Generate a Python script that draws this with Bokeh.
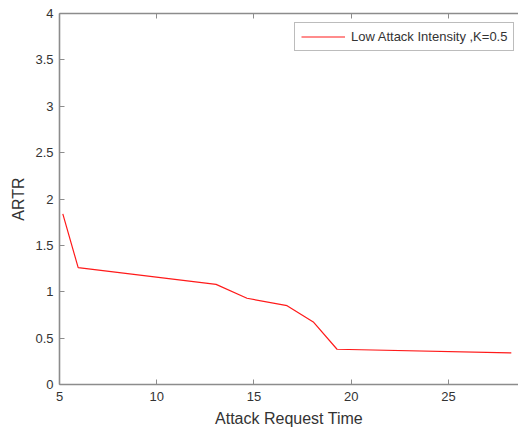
from bokeh.plotting import figure
from bokeh.models import Range1d, FixedTicker, LinearAxis, Legend, LegendItem
from bokeh.embed import file_html
from bokeh.resources import INLINE

# Data
attack_time = [5.17, 5.96, 13.05, 14.64, 16.7, 18.07, 19.27, 28.23]
artr = [1.84, 1.26, 1.08, 0.93, 0.85, 0.67, 0.38, 0.34]
series_name = "Low Attack Intensity ,K=0.5"

x_ticks = [5, 10, 15, 20, 25]
x_tick_labels = ["5", "10", "15", "20", "25"]
y_ticks = [0, 0.5, 1, 1.5, 2, 2.5, 3, 3.5, 4]
y_tick_labels = ["0", "0.5", "1", "1.5", "2", "2.5", "3", "3.5", "4"]

FONT = "Liberation Sans"
AXIS_COLOR = "#8c8c8c"
TEXT_COLOR = "#333333"

p = figure(width=518, height=429, output_backend="svg", toolbar_location=None,
           x_range=Range1d(5, 28.6), y_range=Range1d(0, 4))
p.min_border_left = 59
p.min_border_right = 0
p.min_border_top = 13
p.min_border_bottom = 45
p.outline_line_color = None
p.grid.visible = False
p.background_fill_color = "white"
p.border_fill_color = "white"

line = p.line(attack_time, artr, line_color="#ff1a1a", line_width=1.2)

def style_axis(ax, ticks, labels, show_labels=True):
    ax.ticker = FixedTicker(ticks=ticks)
    ax.major_label_overrides = {t: l for t, l in zip(ticks, labels)}
    ax.major_tick_in = 5
    ax.major_tick_out = 0
    ax.minor_tick_in = 0
    ax.minor_tick_out = 0
    ax.axis_line_color = AXIS_COLOR
    ax.axis_line_width = 1.6
    ax.major_tick_line_color = AXIS_COLOR
    ax.major_tick_line_width = 1
    ax.major_label_text_font = FONT
    ax.major_label_text_font_size = "13px"
    ax.major_label_text_color = TEXT_COLOR
    ax.axis_label_text_font = FONT
    ax.axis_label_text_font_size = "16px"
    ax.axis_label_text_font_style = "normal"
    ax.axis_label_text_color = TEXT_COLOR
    if not show_labels:
        ax.major_label_text_font_size = "0px"
        ax.major_label_text_alpha = 0

style_axis(p.xaxis[0], x_ticks, x_tick_labels)
style_axis(p.yaxis[0], y_ticks, y_tick_labels)
p.xaxis[0].axis_label = "Attack Request Time"
p.yaxis[0].axis_label = "ARTR"
p.xaxis[0].major_label_standoff = 7
p.xaxis[0].axis_label_standoff = 6
p.yaxis[0].major_label_standoff = 6
p.yaxis[0].axis_label_standoff = 5

top_axis = LinearAxis()
style_axis(top_axis, x_ticks, x_tick_labels, show_labels=False)
top_axis.major_label_standoff = 0
p.add_layout(top_axis, "above")

legend = Legend(items=[LegendItem(label=series_name, renderers=[line])],
                location=(235, 333))
legend.label_text_font = FONT
legend.label_text_font_size = "13px"
legend.label_text_color = TEXT_COLOR
legend.border_line_color = "#7a7a7a"
legend.border_line_width = 1
legend.background_fill_alpha = 1
legend.glyph_width = 44
legend.glyph_height = 13
legend.label_standoff = 6
legend.padding = 6
legend.margin = 0
legend.spacing = 0
legend.label_height = 13
p.add_layout(legend)

open("out.html", "w").write(file_html(p, INLINE))
